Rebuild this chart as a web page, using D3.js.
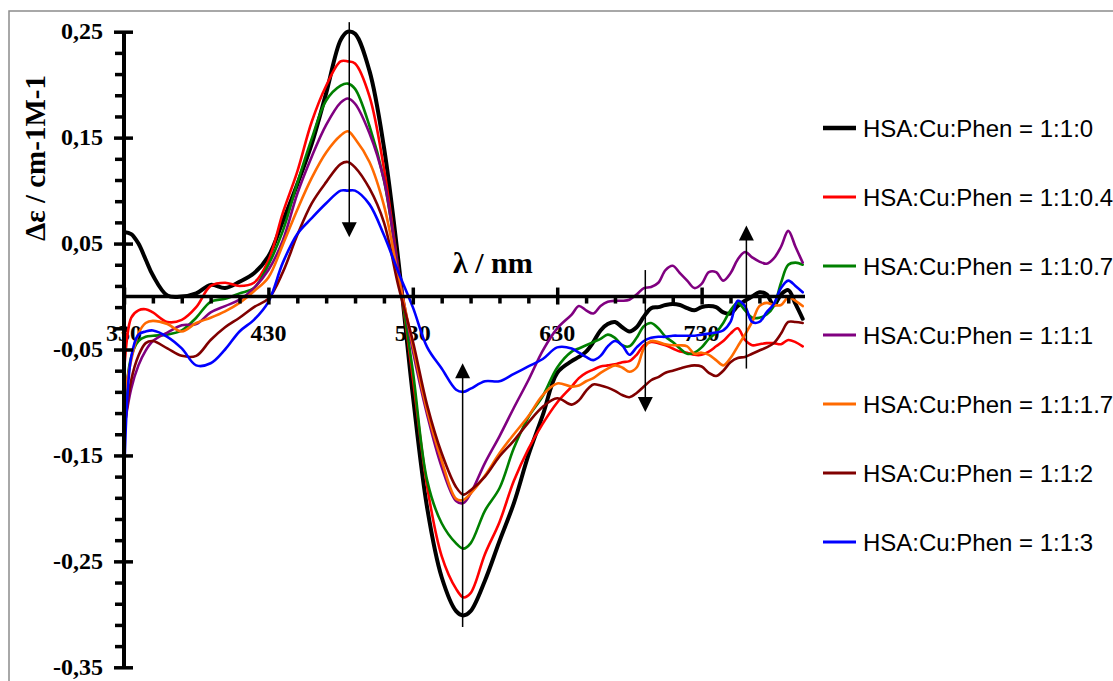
<!DOCTYPE html>
<html>
<head>
<meta charset="utf-8">
<script src="https://cdn.jsdelivr.net/npm/d3@7"></script>
<style>
  html, body { margin: 0; padding: 0; background: #fff; }
  svg { display: block; }
</style>
</head>
<body>
<svg id="chart" width="1113" height="681"></svg>
<script>
// Wavelength grid (nm) shared by every spectrum
const wavelength = [330,335,340,345,350,360,370,380,390,400,410,420,430,440,450,460,470,480,485,490,500,510,520,530,540,550,560,565,570,580,590,600,610,620,630,640,645,650,655,660,665,670,675,680,685,690,695,700,705,710,715,720,725,730,735,740,745,750,755,760,765,770,775,780,785,790,795,800];

// Δε values for each HSA:Cu:Phen ratio
const ratio_1_1_0 = [0.061,0.059,0.050,0.035,0.020,0.001,0.000,0.003,0.011,0.008,0.014,0.022,0.038,0.071,0.106,0.144,0.192,0.242,0.250,0.248,0.213,0.141,0.034,-0.093,-0.200,-0.265,-0.297,-0.301,-0.297,-0.268,-0.231,-0.195,-0.150,-0.112,-0.072,-0.061,-0.057,-0.052,-0.043,-0.032,-0.026,-0.024,-0.029,-0.033,-0.029,-0.019,-0.011,-0.010,-0.008,-0.007,-0.008,-0.011,-0.013,-0.010,-0.009,-0.010,-0.015,-0.016,-0.009,-0.004,0.000,0.004,0.002,-0.008,0.002,0.006,-0.007,-0.021];
const ratio_1_1_04 = [-0.073,-0.020,-0.013,-0.012,-0.015,-0.024,-0.022,-0.010,0.010,0.013,0.010,0.013,0.034,0.079,0.118,0.165,0.199,0.222,0.222,0.220,0.189,0.121,0.026,-0.077,-0.180,-0.245,-0.276,-0.284,-0.280,-0.243,-0.213,-0.174,-0.144,-0.120,-0.100,-0.085,-0.077,-0.072,-0.069,-0.066,-0.065,-0.064,-0.062,-0.061,-0.055,-0.046,-0.043,-0.044,-0.046,-0.049,-0.052,-0.053,-0.055,-0.055,-0.052,-0.047,-0.042,-0.035,-0.030,-0.041,-0.046,-0.045,-0.044,-0.044,-0.045,-0.041,-0.043,-0.047];
const ratio_1_1_07 = [-0.110,-0.057,-0.042,-0.038,-0.037,-0.036,-0.032,-0.020,-0.005,-0.002,0.003,0.008,0.030,0.062,0.107,0.149,0.185,0.199,0.201,0.196,0.161,0.110,0.024,-0.070,-0.174,-0.214,-0.233,-0.238,-0.233,-0.202,-0.181,-0.143,-0.114,-0.094,-0.067,-0.052,-0.049,-0.046,-0.043,-0.040,-0.036,-0.039,-0.046,-0.047,-0.039,-0.028,-0.025,-0.030,-0.038,-0.043,-0.049,-0.054,-0.053,-0.048,-0.040,-0.034,-0.025,-0.013,-0.006,-0.013,-0.020,-0.020,-0.017,-0.009,0.013,0.030,0.032,0.030];
const ratio_1_1_1 = [-0.125,-0.087,-0.065,-0.051,-0.042,-0.034,-0.027,-0.026,-0.015,-0.009,-0.003,0.008,0.025,0.053,0.097,0.132,0.162,0.183,0.187,0.182,0.154,0.110,0.025,-0.051,-0.112,-0.161,-0.193,-0.195,-0.186,-0.157,-0.132,-0.105,-0.079,-0.051,-0.030,-0.017,-0.009,-0.013,-0.016,-0.009,-0.005,-0.004,-0.004,-0.003,0.002,0.008,0.009,0.013,0.025,0.029,0.022,0.015,0.008,0.012,0.023,0.023,0.015,0.022,0.035,0.042,0.037,0.033,0.031,0.036,0.047,0.062,0.047,0.032];
const ratio_1_1_17 = [-0.095,-0.060,-0.035,-0.025,-0.023,-0.026,-0.033,-0.025,-0.020,-0.014,-0.006,0.005,0.018,0.049,0.082,0.112,0.136,0.152,0.156,0.149,0.127,0.086,0.019,-0.046,-0.108,-0.155,-0.191,-0.192,-0.186,-0.169,-0.148,-0.130,-0.113,-0.093,-0.082,-0.085,-0.084,-0.080,-0.077,-0.072,-0.068,-0.065,-0.067,-0.071,-0.067,-0.049,-0.042,-0.043,-0.045,-0.046,-0.046,-0.047,-0.054,-0.053,-0.055,-0.060,-0.065,-0.058,-0.047,-0.036,-0.024,-0.009,-0.006,-0.008,-0.008,-0.001,-0.004,-0.009];
const ratio_1_1_2 = [-0.130,-0.079,-0.056,-0.044,-0.042,-0.049,-0.056,-0.056,-0.041,-0.029,-0.020,-0.010,-0.002,0.023,0.058,0.088,0.108,0.125,0.127,0.122,0.102,0.070,0.010,-0.042,-0.103,-0.148,-0.180,-0.187,-0.183,-0.170,-0.151,-0.136,-0.119,-0.104,-0.096,-0.102,-0.098,-0.089,-0.083,-0.084,-0.086,-0.089,-0.093,-0.095,-0.091,-0.085,-0.079,-0.076,-0.072,-0.070,-0.068,-0.066,-0.065,-0.066,-0.072,-0.075,-0.070,-0.062,-0.058,-0.057,-0.054,-0.051,-0.048,-0.044,-0.035,-0.024,-0.024,-0.025];
const ratio_1_1_3 = [-0.177,-0.057,-0.036,-0.033,-0.032,-0.038,-0.049,-0.065,-0.063,-0.050,-0.033,-0.022,-0.005,0.032,0.059,0.074,0.088,0.100,0.100,0.100,0.087,0.058,0.023,-0.010,-0.048,-0.068,-0.088,-0.090,-0.087,-0.080,-0.080,-0.073,-0.066,-0.059,-0.048,-0.049,-0.053,-0.057,-0.060,-0.056,-0.047,-0.042,-0.046,-0.055,-0.048,-0.042,-0.039,-0.038,-0.038,-0.037,-0.037,-0.037,-0.037,-0.036,-0.035,-0.034,-0.032,-0.024,-0.004,-0.009,-0.024,-0.024,-0.015,-0.007,0.008,0.015,0.010,0.004];

const seriesNames = ["HSA:Cu:Phen = 1:1:0","HSA:Cu:Phen = 1:1:0.4","HSA:Cu:Phen = 1:1:0.7","HSA:Cu:Phen = 1:1:1","HSA:Cu:Phen = 1:1:1.7","HSA:Cu:Phen = 1:1:2","HSA:Cu:Phen = 1:1:3"];
const seriesValues = [ratio_1_1_0, ratio_1_1_04, ratio_1_1_07, ratio_1_1_1, ratio_1_1_17, ratio_1_1_2, ratio_1_1_3];
const seriesColors = ["#000000","#ff0000","#008000","#800080","#ff6a00","#800000","#0000ff"];

// Axis ticks
const yMajorTicks = [0.25,0.15,0.05,-0.05,-0.15,-0.25,-0.35];
const yTickLabels = ["0,25","0,15","0,05","-0,05","-0,15","-0,25","-0,35"];
const xMajorTicks = [330,430,530,630,730];
const xTickLabels = ["330","430","530","630","730"];

// Trend arrows: wavelength, start value, tip value
const arrows = [
  {lambda: 486, from: 0.259, to: 0.056},
  {lambda: 564.5, from: -0.312, to: -0.063},
  {lambda: 691, from: 0.025, to: -0.109},
  {lambda: 761, from: -0.068, to: 0.067}
];

const svg = d3.select("#chart");
const W = 1113, H = 681;

// frame
svg.append("rect").attr("x", 9).attr("y", 11).attr("width", W + 20).attr("height", H + 20)
  .attr("fill", "none").attr("stroke", "#8c8c8c").attr("stroke-width", 1.5);

const x = d3.scaleLinear().domain([330, 800]).range([124, 802.7]);
const y = d3.scaleLinear().domain([-0.35, 0.25]).range([667.3, 31.7]);

const serif = "'Liberation Serif', 'Times New Roman', serif";
const sans = "'Liberation Sans', Arial, sans-serif";

// tick labels (drawn beneath the spectra)
const yLab = svg.append("g");
yMajorTicks.forEach((t, i) => {
  yLab.append("text").attr("x", 103).attr("y", y(t)).attr("dy", "0.31em")
    .attr("text-anchor", "end").attr("font-family", serif).attr("font-weight", "bold")
    .attr("font-size", 24).text(yTickLabels[i]);
});
const xLab = svg.append("g");
xMajorTicks.forEach((t, i) => {
  xLab.append("text").attr("x", x(t)).attr("y", 341)
    .attr("text-anchor", "middle").attr("font-family", serif).attr("font-weight", "bold")
    .attr("font-size", 24).text(xTickLabels[i]);
});

// axis titles
svg.append("text").attr("x", 453).attr("y", 273)
  .attr("font-family", serif).attr("font-weight", "bold").attr("font-size", 30)
  .text("λ / nm");
svg.append("text").attr("transform", "translate(45,158) rotate(-90)")
  .attr("text-anchor", "middle")
  .attr("font-family", serif).attr("font-weight", "bold").attr("font-size", 29)
  .text("Δε / cm-1M-1");

// spectra
const line = d3.line()
  .x((d, i) => x(wavelength[i]))
  .y(d => y(d))
  .curve(d3.curveCatmullRom.alpha(0.5));

const plot = svg.append("g");
seriesValues.forEach((vals, k) => {
  plot.append("path").datum(vals).attr("d", line)
    .attr("fill", "none").attr("stroke", seriesColors[k])
    .attr("stroke-width", k === 0 ? 4 : 2.6)
    .attr("stroke-linejoin", "round").attr("stroke-linecap", "round");
});

// y axis with ticks
const yAxisG = svg.append("g").attr("transform", `translate(${x(330)},0)`);
const yMinor = d3.range(-0.35, 0.2501, 0.02).map(v => Math.round(v * 1000) / 1000);
yAxisG.call(d3.axisLeft(y).tickValues(yMinor).tickSize(9).tickFormat(""));
yAxisG.selectAll(".tick line").attr("stroke", "#000").attr("stroke-width", 3.5)
  .attr("x2", -9)
  .filter(d => yMajorTicks.some(t => Math.abs(t - d) < 1e-6))
  .attr("x1", 9).attr("x2", -10);
yAxisG.select(".domain").attr("d", `M0,${y(0.25)}V${y(-0.35)}`).attr("stroke", "#000").attr("stroke-width", 4);

// x axis on the zero line
const xAxisG = svg.append("g").attr("transform", `translate(0,${y(0)})`);
const xMinor = d3.range(330, 791, 20);
xAxisG.call(d3.axisBottom(x).tickValues(xMinor).tickSize(7).tickFormat(""));
xAxisG.selectAll(".tick line").attr("stroke", "#000").attr("stroke-width", 3.5)
  .filter(d => xMajorTicks.includes(d))
  .attr("y1", -9).attr("y2", 8);
xAxisG.select(".domain").attr("d", `M${x(330)},0H805`).attr("stroke", "#000").attr("stroke-width", 3.5);

// trend arrows
const ag = svg.append("g");
arrows.forEach(a => {
  const ax = x(a.lambda), y0 = y(a.from), y1 = y(a.to);
  const dir = y1 > y0 ? 1 : -1;
  ag.append("line").attr("x1", ax).attr("x2", ax).attr("y1", y0).attr("y2", y1 - dir * 8)
    .attr("stroke", "#000").attr("stroke-width", 1.5);
  ag.append("path")
    .attr("d", `M${ax},${y1}L${ax - 7.5},${y1 - dir * 15}L${ax + 7.5},${y1 - dir * 15}Z`)
    .attr("fill", "#000");
});

// legend
const lg = svg.append("g");
const legendY = [128, 197, 266, 335, 404, 473, 542];
seriesNames.forEach((name, k) => {
  lg.append("line").attr("x1", 823).attr("x2", 856).attr("y1", legendY[k]).attr("y2", legendY[k])
    .attr("stroke", seriesColors[k]).attr("stroke-width", k === 0 ? 4.5 : 3);
  lg.append("text").attr("x", 863).attr("y", legendY[k]).attr("dy", "0.36em")
    .attr("font-family", sans).attr("font-size", 24).attr("fill", "#000").text(name);
});
</script>
</body>
</html>
